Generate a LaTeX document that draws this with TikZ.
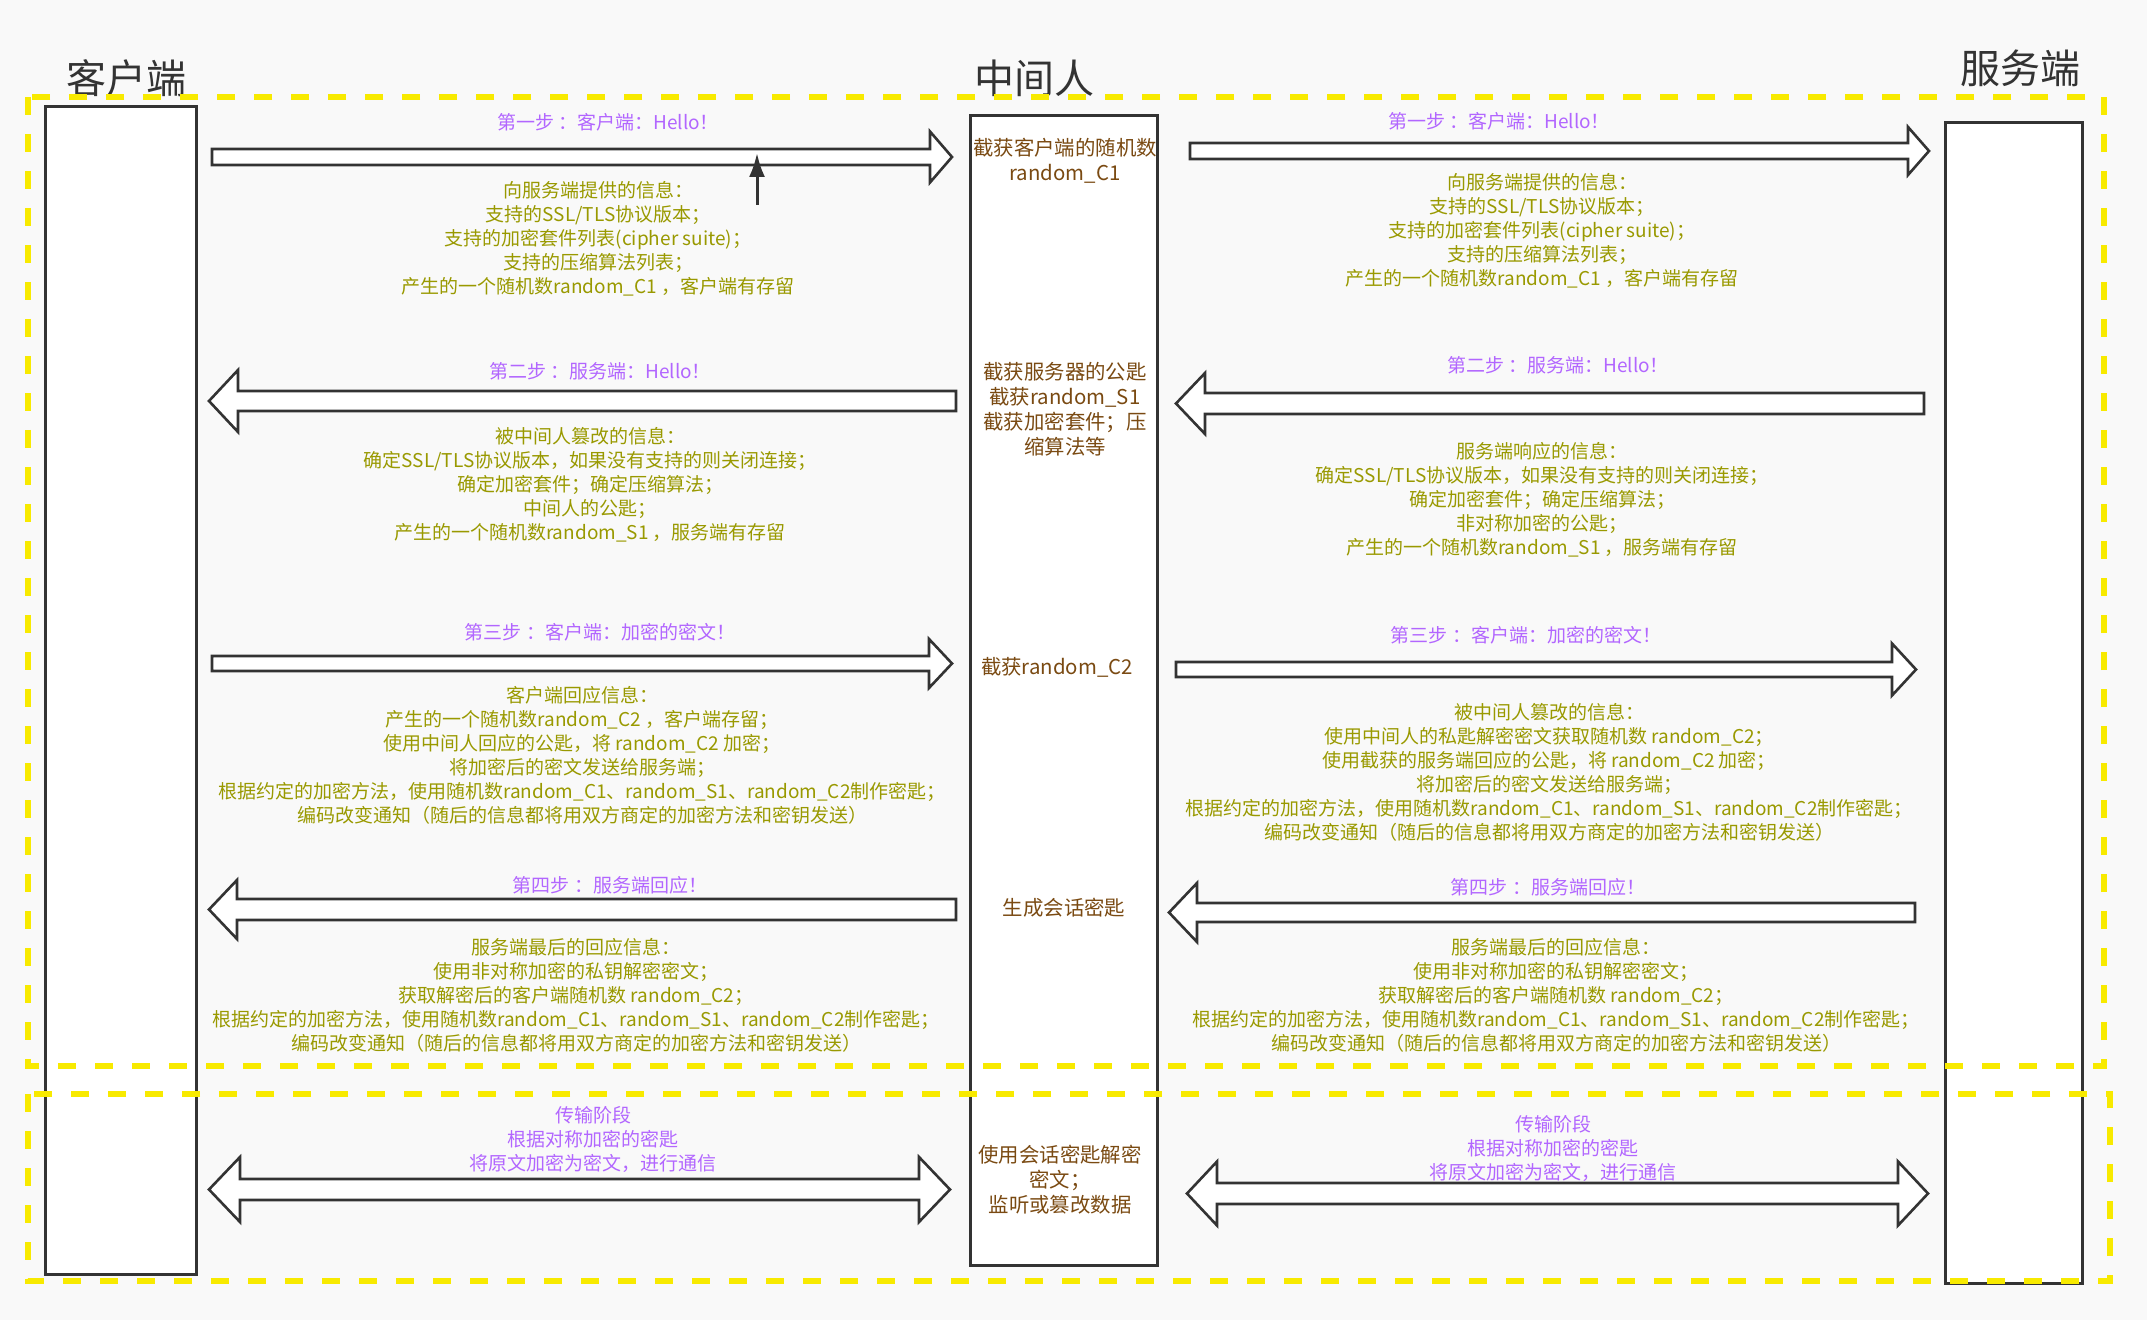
\documentclass[tikz,border=0pt]{standalone}
\usepackage{fontspec}
\setmainfont{Noto Sans CJK SC}
\usetikzlibrary{arrows.meta}
\definecolor{bgc}{HTML}{F9F9F9}
\definecolor{ylw}{RGB}{248,234,0}
\definecolor{purp}{RGB}{178,102,255}
\definecolor{oliv}{RGB}{153,153,0}
\definecolor{brn}{RGB}{122,74,18}
\definecolor{dk}{HTML}{333333}
% right-pointing block arrow: tail x, tip x, centre y, shaft half, head half, head length
\newcommand\myRA[6]{\draw[blockar] (#1,#3-#4) -- (#2-#6,#3-#4) -- (#2-#6,#3-#5) -- (#2,#3) -- (#2-#6,#3+#5) -- (#2-#6,#3+#4) -- (#1,#3+#4) -- cycle;}
% left-pointing block arrow: tip x, tail x, centre y, shaft half, head half, head length
\newcommand\myLA[6]{\draw[blockar] (#2,#3-#4) -- (#1+#6,#3-#4) -- (#1+#6,#3-#5) -- (#1,#3) -- (#1+#6,#3+#5) -- (#1+#6,#3+#4) -- (#2,#3+#4) -- cycle;}
% double block arrow: left tip, right tip, centre y, shaft half, head half, head length
\newcommand\myDA[6]{\draw[blockar] (#1,#3) -- (#1+#6,#3-#5) -- (#1+#6,#3-#4) -- (#2-#6,#3-#4) -- (#2-#6,#3-#5) -- (#2,#3) -- (#2-#6,#3+#5) -- (#2-#6,#3+#4) -- (#1+#6,#3+#4) -- (#1+#6,#3+#5) -- cycle;}
\begin{document}
\begin{tikzpicture}[x=0.5pt,y=-0.5pt,
  blockar/.style={draw=dk,fill=white,line width=1.3pt,line join=miter},
  lane/.style={draw=dk,fill=white,line width=1.5pt,anchor=north west,inner sep=0,outer sep=0},
  ydash/.style={draw=ylw,line width=3pt,dash pattern=on 9pt off 9.5pt},
  steplbl/.style={text=purp,font=\fontsize{9.5pt}{12pt}\selectfont,align=center,inner sep=0},
  info/.style={text=oliv,font=\fontsize{9.5pt}{12pt}\selectfont,align=center,inner sep=0},
  mid/.style={text=brn,font=\fontsize{10.2pt}{12.5pt}\selectfont,align=center,inner sep=0},
  ttl/.style={text=dk,font=\fontsize{20pt}{24pt}\selectfont,inner sep=0}]
\useasboundingbox (0,0) rectangle (2147,1320);
\fill[bgc] (0,0) rectangle (2147,1320);

% lanes
\node[lane,minimum width=75.5pt,minimum height=583.5pt] (client) at (45,107) {};
\node[lane,minimum width=93.5pt,minimum height=574.5pt] (mitm) at (970,116) {};
\node[lane,minimum width=68.5pt,minimum height=580pt] (server) at (1945,123) {};

% titles
\node[ttl] (tclient) at (126,78) {客户端};
\node[ttl] (tmitm) at (1034,78) {中间人};
\node[ttl] (tserver) at (2020,68) {服务端};

% block arrows
\myRA{212}{952}{157}{8}{25.5}{22}
\myRA{1190}{1929}{151}{8}{24}{21}
\myLA{209}{956}{401}{10}{31}{29}
\myLA{1176}{1924}{403.5}{10.5}{30.5}{29}
\myRA{212}{952}{663.5}{7.5}{24.5}{23}
\myRA{1176}{1916}{669.5}{7.5}{26}{24}
\myLA{209}{956}{909.5}{10.5}{29.5}{28}
\myLA{1169}{1915}{912.5}{9.5}{29.5}{28}
\myDA{209}{950}{1189.5}{10.5}{32.5}{31}
\myDA{1187}{1928}{1193.5}{10.5}{32}{30}

% small arrow
\coordinate (sa0) at (757,205);
\coordinate (sa1) at (757,153);
\draw[dk,line width=1.5pt,-{Latex[length=12pt,width=8pt]}] (sa0) -- (sa1);

% yellow dashed frames
\draw[ydash] (28,97) rectangle (2104,1066);
\draw[ydash] (28,1094) rectangle (2110,1281);

% step labels
\node[steplbl] (s1l) at (608,122) {第一步 ：客户端：Hello！};
\node[steplbl] (s1r) at (1499,121) {第一步 ：客户端：Hello！};
\node[steplbl] (s2l) at (600,371) {第二步 ：服务端：Hello！};
\node[steplbl] (s2r) at (1558,365) {第二步 ：服务端：Hello！};
\node[steplbl] (s3l) at (600,632) {第三步 ：客户端：加密的密文！};
\node[steplbl] (s3r) at (1526,635) {第三步 ：客户端：加密的密文！};
\node[steplbl] (s4l) at (610,885) {第四步 ：服务端回应！};
\node[steplbl] (s4r) at (1548,887) {第四步 ：服务端回应！};

% info texts
\node[info] (i1l) at (598,238.5) {向服务端提供的信息：\\支持的SSL/TLS协议版本；\\支持的加密套件列表(cipher suite)；\\支持的压缩算法列表；\\产生的一个随机数random\_C1 ，客户端有存留};
\node[info] (i1r) at (1542,230.5) {向服务端提供的信息：\\支持的SSL/TLS协议版本；\\支持的加密套件列表(cipher suite)；\\支持的压缩算法列表；\\产生的一个随机数random\_C1 ，客户端有存留};
\node[info] (i2l) at (590,485) {被中间人篡改的信息：\\确定SSL/TLS协议版本，如果没有支持的则关闭连接；\\确定加密套件；确定压缩算法；\\中间人的公匙；\\产生的一个随机数random\_S1 ，服务端有存留};
\node[info] (i2r) at (1542,499.5) {服务端响应的信息：\\确定SSL/TLS协议版本，如果没有支持的则关闭连接；\\确定加密套件；确定压缩算法；\\非对称加密的公匙；\\产生的一个随机数random\_S1 ，服务端有存留};
\node[info] (i3l) at (582,755) {客户端回应信息：\\产生的一个随机数random\_C2 ，客户端存留；\\使用中间人回应的公匙，将 random\_C2 加密；\\将加密后的密文发送给服务端；\\根据约定的加密方法，使用随机数random\_C1、random\_S1、random\_C2制作密匙；\\编码改变通知（随后的信息都将用双方商定的加密方法和密钥发送）};
\node[info] (i3r) at (1549,772.5) {被中间人篡改的信息：\\使用中间人的私匙解密密文获取随机数 random\_C2；\\使用截获的服务端回应的公匙，将 random\_C2 加密；\\将加密后的密文发送给服务端；\\根据约定的加密方法，使用随机数random\_C1、random\_S1、random\_C2制作密匙；\\编码改变通知（随后的信息都将用双方商定的加密方法和密钥发送）};
\node[info] (i4l) at (576,995) {服务端最后的回应信息：\\使用非对称加密的私钥解密密文；\\获取解密后的客户端随机数 random\_C2；\\根据约定的加密方法，使用随机数random\_C1、random\_S1、random\_C2制作密匙；\\编码改变通知（随后的信息都将用双方商定的加密方法和密钥发送）};
\node[info] (i4r) at (1556,995) {服务端最后的回应信息：\\使用非对称加密的私钥解密密文；\\获取解密后的客户端随机数 random\_C2；\\根据约定的加密方法，使用随机数random\_C1、random\_S1、random\_C2制作密匙；\\编码改变通知（随后的信息都将用双方商定的加密方法和密钥发送）};

% transmission phase
\node[steplbl] (trl) at (593,1139) {传输阶段\\根据对称加密的密匙\\将原文加密为密文，进行通信};
\node[steplbl] (trr) at (1553,1148) {传输阶段\\根据对称加密的密匙\\将原文加密为密文，进行通信};

% middle texts
\node[mid] (m1) at (1065,160.5) {截获客户端的随机数\\random\_C1};
\node[mid] (m2) at (1065,409.5) {截获服务器的公匙\\截获random\_S1\\截获加密套件；压\\缩算法等};
\node[mid] (m3) at (1057,667) {截获random\_C2};
\node[mid] (m4) at (1064,908) {生成会话密匙};
\node[mid] (m5) at (1060,1180) {使用会话密匙解密\\密文；\\监听或篡改数据};
\end{tikzpicture}
\end{document}
